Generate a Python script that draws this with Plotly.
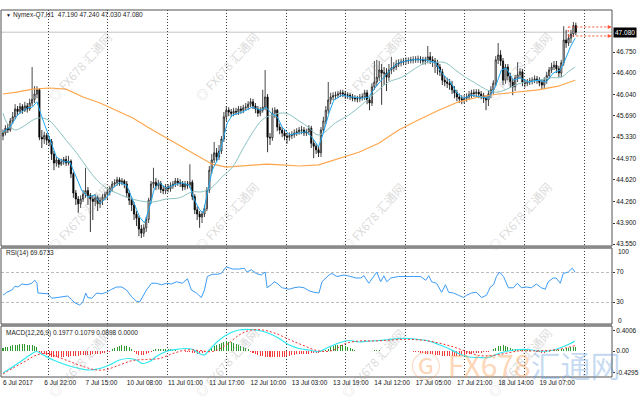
import plotly.graph_objects as go
from plotly.subplots import make_subplots

# ---------------- data ----------------
SYMBOL = "Nymex-Q7,H1"
LAST_OHLC = ["47.190", "47.240", "47.030", "47.080"]
FIRST_OPEN_C = 4535  # hundredths of a dollar

CLOSE_C = [
    4540, 4548, 4545, 4560, 4567, 4580, 4576, 4584, 4578, 4585,
    4580, 4590, 4596, 4605, 4612, 4533, 4530, 4536, 4528, 4526,
    4505, 4490, 4495, 4488, 4492, 4496, 4490, 4493, 4472, 4440,
    4430, 4422, 4430, 4438, 4444, 4436, 4430, 4426, 4432, 4422,
    4428, 4433, 4438,
    4442, 4448, 4455, 4457, 4462, 4458, 4460, 4455,
    4440, 4428, 4420, 4405, 4398, 4380, 4373, 4382, 4396, 4428,
    4455, 4458, 4452, 4456, 4446, 4444, 4450, 4447, 4452, 4455,
    4460, 4457, 4456, 4450, 4455, 4453, 4458, 4434, 4412, 4405,
    4400, 4405, 4414, 4445, 4478, 4495, 4507, 4500, 4510, 4530,
    4567, 4578, 4575, 4573, 4576, 4575, 4580, 4578, 4582, 4583,
    4588, 4592, 4585, 4580, 4573, 4578, 4583, 4600, 4533, 4532,
    4573, 4578, 4550, 4545, 4540, 4535, 4533, 4536, 4537, 4540,
    4542, 4545, 4545, 4540, 4542, 4548, 4523, 4518, 4512, 4507,
    4545, 4560, 4578, 4595, 4600, 4602, 4603, 4605, 4607, 4605,
    4603, 4603, 4600, 4598, 4597, 4597, 4600, 4600, 4607, 4595,
    4590, 4617, 4625, 4633, 4645, 4640, 4640, 4633, 4645, 4648,
    4650, 4655, 4657, 4658, 4660, 4660, 4661, 4662, 4662, 4663,
    4663, 4662, 4660, 4662, 4667, 4662, 4660, 4657, 4650, 4642,
    4628, 4625, 4623, 4620, 4612, 4607, 4600, 4597, 4595, 4598,
    4600, 4604, 4607, 4606, 4608, 4605, 4602, 4598, 4595, 4605,
    4612, 4623, 4662, 4670, 4660, 4628, 4650, 4635, 4625, 4617,
    4632, 4637, 4642, 4625, 4623, 4625, 4627, 4628, 4630, 4628,
    4624, 4620, 4628, 4636, 4645, 4650, 4653, 4647, 4640, 4657,
    4695, 4690, 4698, 4705, 4719, 4708,
]
HIGH_C = [
    4546, 4553, 4555, 4565, 4575, 4588, 4585, 4590, 4588, 4592,
    4590, 4597, 4650, 4618, 4618, 4615, 4545, 4542, 4540, 4535,
    4530, 4510, 4500, 4498, 4497, 4500, 4502, 4502, 4496, 4475,
    4445, 4435, 4436, 4445, 4482, 4450, 4440, 4436, 4438, 4436,
    4433, 4438, 4442,
    4447, 4452, 4460, 4463, 4467, 4466, 4465, 4463,
    4460, 4445, 4433, 4425, 4410, 4402, 4387, 4388, 4400, 4432,
    4460, 4482, 4465, 4462, 4460, 4452, 4455, 4455, 4458, 4460,
    4465, 4465, 4463, 4460, 4460, 4460, 4488, 4462, 4438, 4418,
    4410, 4410, 4420, 4450, 4485, 4505, 4525, 4515, 4520, 4535,
    4575, 4585, 4583, 4580, 4582, 4582, 4585, 4585, 4587, 4590,
    4593, 4598, 4597, 4590, 4585, 4583, 4612, 4645, 4605, 4540,
    4582, 4583, 4580, 4556, 4550, 4545, 4540, 4541, 4543, 4546,
    4548, 4550, 4552, 4550, 4547, 4553, 4552, 4528, 4522, 4517,
    4550, 4567, 4585, 4625, 4607, 4608, 4609, 4610, 4612, 4612,
    4610, 4608, 4607, 4605, 4603, 4602, 4605, 4606, 4612, 4612,
    4600, 4623, 4660, 4662, 4660, 4655, 4650, 4648, 4655, 4667,
    4658, 4662, 4663, 4664, 4665, 4666, 4666, 4667, 4668, 4668,
    4669, 4668, 4667, 4667, 4685, 4675, 4668, 4665, 4662, 4655,
    4647, 4635, 4632, 4630, 4627, 4618, 4612, 4606, 4603, 4603,
    4606, 4610, 4612, 4613, 4613, 4613, 4610, 4607, 4603, 4610,
    4618, 4628, 4668, 4690, 4678, 4665, 4655, 4655, 4640, 4630,
    4637, 4658, 4648, 4647, 4630, 4630, 4632, 4633, 4636, 4635,
    4633, 4630, 4633, 4642, 4650, 4657, 4660, 4660, 4652, 4662,
    4718, 4712, 4705, 4712, 4725, 4724,
]
LOW_C = [
    4528, 4536, 4540, 4542, 4555, 4563, 4570, 4572, 4572, 4575,
    4574, 4577, 4585, 4590, 4598, 4528, 4515, 4522, 4520, 4518,
    4495, 4478, 4484, 4482, 4485, 4487, 4485, 4486, 4465, 4432,
    4420, 4407, 4415, 4425, 4432, 4420, 4375, 4395, 4418, 4410,
    4415, 4420, 4428,
    4428, 4436, 4442, 4450, 4452, 4452, 4453, 4448,
    4433, 4420, 4410, 4395, 4385, 4368, 4365, 4367, 4375, 4390,
    4422, 4448, 4445, 4446, 4440, 4438, 4438, 4441, 4442, 4447,
    4450, 4452, 4450, 4444, 4445, 4447, 4448, 4428, 4405, 4395,
    4382, 4390, 4400, 4410, 4440, 4472, 4490, 4492, 4495, 4505,
    4525, 4560, 4568, 4567, 4568, 4570, 4570, 4572, 4573, 4577,
    4578, 4583, 4580, 4573, 4567, 4568, 4574, 4578, 4508, 4520,
    4527, 4565, 4543, 4538, 4533, 4528, 4522, 4527, 4530, 4532,
    4535, 4537, 4538, 4535, 4535, 4537, 4515, 4498, 4505, 4500,
    4500, 4540, 4555, 4572, 4588, 4595, 4596, 4598, 4600, 4600,
    4597, 4597, 4595, 4593, 4592, 4591, 4592, 4594, 4595, 4588,
    4578, 4585, 4612, 4618, 4627, 4587, 4620, 4610, 4627, 4638,
    4642, 4645, 4650, 4651, 4653, 4654, 4655, 4656, 4656, 4657,
    4657, 4656, 4654, 4654, 4656, 4655, 4650, 4640, 4637, 4635,
    4620, 4618, 4615, 4612, 4605, 4598, 4593, 4590, 4588, 4589,
    4592, 4595, 4598, 4600, 4600, 4598, 4596, 4590, 4578, 4585,
    4598, 4605, 4618, 4655, 4652, 4620, 4622, 4628, 4615, 4603,
    4610, 4625, 4630, 4618, 4616, 4618, 4620, 4621, 4623, 4622,
    4618, 4613, 4613, 4622, 4630, 4640, 4645, 4640, 4633, 4633,
    4652, 4682, 4685, 4690, 4700, 4703,
]

# moving averages (bar index, price)
MA_FAST_X = [0, 3, 6, 10, 12, 14, 16, 18, 20, 22, 25, 27.5, 29.5, 32.4, 35, 37.8, 40, 42.7, 45.2, 48,
             51, 53.5, 56.3, 58.3, 60.4, 62.4, 64.5, 67.3, 70, 73.5, 76.8, 78.9, 81, 82.5, 84.2, 86.2,
             88.3, 90.3, 92.4, 94.5, 98.6, 102.7, 106.4, 108.4, 110.5, 113, 115, 118, 122, 125, 127.3,
             130, 132, 134.3, 136.3, 139.6, 143.7, 147.8, 150.7, 153.6, 156.9, 160.2, 163, 168.4, 174.1,
             178.2, 180.7, 184.4, 186.9, 189.7, 193, 197.1, 200, 202.9, 205.3, 207.4, 210.3, 213.1,
             216.4, 220.5, 223.8, 226.7, 229.6, 231.6, 233.7, 235.7]
MA_FAST_Y = [45.42, 45.50, 45.70, 45.82, 45.83, 45.92, 45.67, 45.45, 45.25, 45.00, 44.92, 44.92, 44.73,
             44.45, 44.33, 44.37, 44.23, 44.32, 44.48, 44.57, 44.53, 44.28, 44.00, 43.90, 44.17, 44.48,
             44.57, 44.48, 44.53, 44.57, 44.53, 44.28, 44.12, 44.07, 44.40, 44.78, 44.95, 45.23, 45.57,
             45.70, 45.75, 45.83, 45.78, 45.83, 45.73, 45.67, 45.50, 45.37, 45.40, 45.42, 45.33, 45.17,
             45.40, 45.73, 45.95, 46.03, 46.00, 45.98, 46.00, 46.17, 46.33, 46.48, 46.57, 46.62, 46.62,
             46.57, 46.40, 46.25, 46.07, 45.98, 46.03, 46.00, 45.98, 46.17, 46.45, 46.48, 46.28, 46.32,
             46.25, 46.28, 46.25, 46.40, 46.45, 46.62, 46.83, 46.98]
MA_MID_X = [0, 1.6, 5, 8, 12.5, 15, 18.6, 22.7, 26, 30.3, 34.5, 38.6, 42.7, 46.8, 50.9, 56.3, 61.6, 67.3,
            72.7, 78, 82, 86.2, 90.3, 94.5, 98.6, 102.7, 106.8, 110.9, 116.6, 122, 126, 129.4, 132, 137,
            142.5, 147.8, 153.6, 158.9, 164.3, 170, 174.1, 178.2, 182.3, 186.4, 190.5, 194.7, 198.8,
            202.9, 207, 211.1, 215.2, 220.5, 225.9, 230, 232.9, 235.7]
MA_MID_Y = [45.73, 45.57, 45.45, 45.50, 45.62, 45.65, 45.62, 45.45, 45.28, 45.07, 44.83, 44.62, 44.48,
            44.40, 44.33, 44.27, 44.25, 44.30, 44.32, 44.42, 44.42, 44.50, 44.67, 44.83, 45.12, 45.40,
            45.62, 45.70, 45.73, 45.60, 45.49, 45.37, 45.40, 45.57, 45.70, 45.87, 46.08, 46.25, 46.33,
            46.48, 46.57, 46.58, 46.57, 46.45, 46.33, 46.23, 46.13, 46.08, 46.12, 46.20, 46.25, 46.28,
            46.32, 46.33, 46.42, 46.50]
MA_SLOW_X = [0, 5.7, 12.3, 19.3, 26, 33, 40, 46.8, 53.5, 60.4, 67.3, 74, 81, 86.2, 92, 97.3, 102.7,
             108.4, 115, 122, 130, 138.4, 146.6, 154.8, 163, 171.3, 179.5, 187.7, 195.9, 204.1, 212.3,
             220.5, 228.7, 235.7]
MA_SLOW_Y = [46.05, 46.08, 46.13, 46.15, 46.13, 46.00, 45.90, 45.78, 45.65, 45.48, 45.32, 45.17, 45.00,
             44.88, 44.83, 44.85, 44.87, 44.88, 44.87, 44.85, 44.87, 44.98, 45.08, 45.23, 45.45, 45.62,
             45.78, 45.92, 46.00, 46.05, 46.08, 46.12, 46.18, 46.28]

# RSI(14)
RSI_X = [0, 1.6, 3.7, 4.9, 6.2, 7.8, 9.9, 11.9, 13.1, 14, 14.4, 16.4, 18.5, 20.1, 22.2, 24.6, 26.7, 28.3,
         29.6, 31.6, 32.9, 34.1, 34.9, 36.6, 38.6, 40.7, 42.7, 44.8, 46.8, 48.9, 50.9, 53, 55, 56.3, 57.5,
         59.1, 61.2, 63.2, 65.3, 67.4, 69.4, 71.5, 73.9, 76, 77.6, 79.7, 81.7, 83, 84.2, 86.2, 88.3, 89.9,
         92, 94.5, 97.3, 99.4, 100.6, 102.3, 104.3, 106.4, 108, 108.8, 110.5, 111.7, 112.9, 115, 117.9,
         119.9, 122, 124, 126.1, 128.1, 130.2, 131.4, 134.3, 135.5, 137.6, 140.5, 143.3, 145.4, 147.4,
         148.7, 150.7, 152.8, 154, 155.6, 156.9, 158.1, 159.8, 163, 165.9, 168.4, 172.1, 174.1, 175.4,
         176.6, 178.6, 180.7, 182.3, 183.6, 185.6, 187.7, 189.7, 191, 193, 195.1, 197.1, 199.2, 200.8,
         202.1, 203.3, 204.5, 206.2, 208.2, 210.3, 211.9, 213.6, 215.6, 217.7, 219.7, 221.8, 223.4,
         224.6, 226.7, 227.9, 229.6, 230.8, 232.9, 234.5, 235.7]
RSI_Y = [39, 43, 46, 51, 50, 54, 53, 55, 59, 55, 42, 42, 41, 35, 36, 37, 38, 33, 29, 26, 30, 42, 36, 35,
         42, 41, 43, 47, 50, 50, 46, 37, 31, 30, 37, 46, 55, 55, 53, 55, 54, 57, 55, 61, 46, 42, 36, 46,
         64, 67, 67, 68, 77, 74, 74, 75, 70, 73, 68, 66, 70, 49, 53, 57, 55, 49, 47, 49, 50, 49, 45, 43,
         42, 57, 66, 68, 64, 66, 64, 62, 62, 65, 55, 65, 70, 57, 65, 57, 62, 64, 64, 64, 64, 59, 65, 57,
         55, 43, 53, 43, 42, 39, 36, 39, 42, 43, 36, 39, 50, 53, 64, 70, 64, 49, 49, 55, 49, 50, 49, 54,
         49, 47, 57, 62, 62, 55, 68, 70, 75, 69.67]
RSI_LEVELS = [70, 30]

# MACD(12,26,9)
MACD_X = [0, 2.9, 7.0, 11.1, 13.8, 16.6, 20.7, 26.1, 31.6, 35.7, 39.8, 43.9, 48.0, 52.2, 54.9, 57.6,
          60.4, 63.1, 67.2, 71.3, 75.4, 78.2, 80.9, 83.0, 85.0, 89.1, 93.2, 97.3, 101.4, 105.5, 109.7,
          113.8, 117.9, 122.0, 126.1, 130.2, 134.3, 138.4, 142.5, 146.6, 150.7, 154.8, 158.9, 163.1,
          167.2, 171.3, 175.4, 179.5, 183.6, 187.7, 191.8, 195.9, 200.0, 204.1, 208.2, 212.3, 216.4,
          220.5, 224.7, 228.8, 232.9, 235.6]
MACD_Y = [-0.44, -0.35, -0.22, -0.08, -0.01, -0.08, -0.18, -0.28, -0.35, -0.38, -0.35, -0.28, -0.18,
          -0.15, -0.18, -0.25, -0.21, -0.11, -0.01, 0.03, 0.05, 0.03, -0.05, -0.08, 0.02, 0.22, 0.35,
          0.42, 0.43, 0.41, 0.35, 0.25, 0.12, 0.05, 0.02, -0.01, 0.08, 0.16, 0.21, 0.18, 0.20, 0.21,
          0.23, 0.25, 0.25, 0.23, 0.20, 0.13, 0.05, -0.05, -0.12, -0.13, -0.13, -0.05, 0.0, 0.03, 0.03,
          0.0, 0.0, 0.05, 0.13, 0.1977]
SIGNAL_X = [0, 4.2, 9.7, 13.8, 17.9, 22.0, 27.5, 33.0, 38.5, 42.6, 48.0, 53.5, 59.0, 64.5, 70.0, 75.4,
            80.9, 86.4, 91.9, 97.3, 101.4, 106.9, 112.4, 117.9, 123.3, 130.2, 135.7, 141.1, 146.6, 152.1,
            157.6, 163.1, 168.5, 174.0, 179.5, 185.0, 190.4, 195.9, 201.4, 206.9, 212.3, 217.8, 223.3,
            228.8, 235.6]
SIGNAL_Y = [-0.46, -0.34, -0.19, -0.08, -0.05, -0.11, -0.21, -0.31, -0.38, -0.37, -0.28, -0.19, -0.17,
            -0.15, -0.05, 0.02, 0.01, -0.01, 0.12, 0.32, 0.41, 0.42, 0.35, 0.23, 0.12, 0.0, 0.01, 0.15,
            0.20, 0.20, 0.21, 0.23, 0.23, 0.21, 0.16, 0.09, 0.0, -0.09, -0.09, -0.05, 0.0, 0.0, 0.01,
            0.03, 0.1079]
HIST_C = [  # hundredths, one per bar
    7, 8, 9, 10, 12, 12, 13, 14, 14, 14, 13, 13, 12, 10, 8,
    -2, -4, -6, -8,
    -10, -11, -12, -12, -11, -12, -11, -10, -11, -10, -10, -9, -9, -8, -8, -7, -8, -7, -6, -6,
    -5, -5, -4, -3, -2, -1,
    4, 7, 9, 11, 12, 11, 10, 8, 5,
    -2, -5, -7, -8, -8, -6, -3, -1,
    2, 4, 5, 5, 5, 5, 4, 4, 3, 2,
    1, 1, 0, -1, -1, -2, -3, -4, -5, -5, -4, -2, 1,
    4, 7, 10, 13, 15, 17, 19, 20, 19, 18, 16, 14, 12, 10, 8, 6, 4,
    -1, -3, -5, -7, -9, -10, -11, -11, -12, -11, -11, -12, -12, -12, -11, -10, -9, -8, -7, -6,
    -6, -5, -5, -5, -5, -4, -4, -3, -3, -2, -1,
    2, 5, 8, 10, 12, 13, 13, 12, 11, 9, 7, 4,
    2, 1, 1, 1, 1, 1, 1, 1, 2, 2, 2, 1, 1, 1, 1, 1, 1, 1, 1, 0, 0, 0, 0, 0, -1,
    -1, -2, -3, -4, -5, -5, -6, -6, -7, -7, -8, -9, -9, -10, -10, -10, -10, -9, -9,
    -8, -7, -6, -5, -5, -4, -4, -3, -3, -2, -2, -1, 1,
    4, 7, 10, 11, 12, 11, 9, 7, 5,
    4, 3, 3, 3, 2, 2, 2, 1, 0,
    -1, -2, -3, -3, -2, -1,
    1, 2, 3, 3, 4, 5, 6, 7, 8, 9, 9,
]
MACD_TITLE_VALUES = ["0.1977", "0.1079", "0.0898", "0.0000"]
RSI_TITLE_VALUE = "69.6733"

# axes / labels
PRICE_TICKS = [46.75, 46.40, 46.04, 45.69, 45.33, 44.97, 44.62, 44.26, 43.90, 43.55]
MACD_TICKS = [0.4006, 0.0, -0.4295]
MACD_TICK_TEXT = ["0.4006", "0.00", "-0.4295"]
TIME_LABELS = ["6 Jul 2017", "6 Jul 22:00", "7 Jul 15:00", "10 Jul 08:00", "11 Jul 01:00",
               "11 Jul 17:00", "12 Jul 10:00", "13 Jul 03:00", "13 Jul 19:00", "14 Jul 12:00",
               "17 Jul 05:00", "17 Jul 21:00", "18 Jul 14:00", "19 Jul 07:00"]
TIME_LABEL_BARS = [0, 17, 34, 51, 68, 85, 102, 119, 136, 153, 170, 187, 204, 221]
GRID_BARS = [18.9, 43.1, 67.8, 92.0, 116.6, 141.3, 165.9, 190.1, 214.8, 239.4]
CURRENT_PRICE = 47.08
LEVEL_MARKS = [47.167, 47.017]
LEVEL_MARK_START = 232.9
WATERMARK = "FX678 汇通网"

# ---------------- figure ----------------
W, H = 640, 400
ML, MR, MT, MB = 1, 26, 10, 23
PH = H - MT - MB  # plot height in px


def py(ypx):  # pixel row -> paper y
    return (H - MB - ypx) / PH


def px(xpx):  # pixel column -> paper x
    return (xpx - ML) / (W - ML - MR)


n = len(CLOSE_C)
bars = list(range(n))
closes = [c / 100 for c in CLOSE_C]
opens = [FIRST_OPEN_C / 100] + closes[:-1]
highs = [v / 100 for v in HIGH_C]
lows = [v / 100 for v in LOW_C]

fig = make_subplots(rows=3, cols=1, shared_xaxes=True, vertical_spacing=0)

fig.add_trace(go.Candlestick(
    x=bars, open=opens, high=highs, low=lows, close=closes,
    increasing=dict(line=dict(color="#1a1a1a", width=0.8), fillcolor="#ffffff"),
    decreasing=dict(line=dict(color="#000000", width=0.8), fillcolor="#000000"),
    whiskerwidth=0, hoverinfo="skip", showlegend=False), row=1, col=1)
fig.add_trace(go.Scatter(x=MA_SLOW_X, y=MA_SLOW_Y, mode="lines",
                         line=dict(color="#ffa64d", width=1.2), hoverinfo="skip"), row=1, col=1)
fig.add_trace(go.Scatter(x=MA_MID_X, y=MA_MID_Y, mode="lines", line_shape="spline",
                         line=dict(color="#8cc3c3", width=1), hoverinfo="skip"), row=1, col=1)
fig.add_trace(go.Scatter(x=MA_FAST_X, y=MA_FAST_Y, mode="lines",
                         line=dict(color="#1ea7f0", width=1), hoverinfo="skip"), row=1, col=1)

fig.add_trace(go.Scatter(x=RSI_X, y=RSI_Y, mode="lines",
                         line=dict(color="#3d9cf5", width=1), hoverinfo="skip"), row=2, col=1)

hist_vals = [v / 100 for v in HIST_C]
hist_cols = ["#2f9a2f" if v > 0 else "#f03c3c" for v in hist_vals]
fig.add_trace(go.Bar(x=list(range(len(hist_vals))), y=hist_vals, marker_color=hist_cols,
                     marker_line_width=0, width=0.42, hoverinfo="skip"), row=3, col=1)
fig.add_trace(go.Scatter(x=MACD_X, y=MACD_Y, mode="lines", line_shape="spline",
                         line=dict(color="#30e8f0", width=1.2), hoverinfo="skip"), row=3, col=1)
fig.add_trace(go.Scatter(x=SIGNAL_X, y=SIGNAL_Y, mode="lines", line_shape="spline",
                         line=dict(color="#f03030", width=1, dash="2px,2px"), hoverinfo="skip"),
              row=3, col=1)

FONT = "Liberation Sans, Arial, sans-serif"
fig.update_layout(
    width=W, height=H, margin=dict(l=ML, r=MR, t=MT, b=MB),
    paper_bgcolor="white", plot_bgcolor="white", showlegend=False,
    font=dict(family=FONT, size=6.5, color="#111111"),
    bargap=0,
)

x_range = [-0.82, 250.9]
grid_minor = dict(tickvals=GRID_BARS, showgrid=True, gridcolor="#3a3a3a", gridwidth=1,
                  griddash="1px,2px", ticks="")
for ax in ["xaxis", "xaxis2", "xaxis3"]:
    fig.layout[ax].update(range=x_range, showgrid=False, zeroline=False, showline=False,
                          minor=grid_minor, rangeslider=dict(visible=False), fixedrange=True)
fig.layout.xaxis.showticklabels = False
fig.layout.xaxis2.showticklabels = False
fig.layout.xaxis3.update(tickmode="array", tickvals=TIME_LABEL_BARS, ticktext=TIME_LABELS,
                         ticks="", showticklabels=True, ticklabelposition="outside right",
                         tickangle=0, tickfont=dict(size=6.5, color="#111111"))

ycommon = dict(side="right", showgrid=False, zeroline=False, showline=False, ticks="outside",
               ticklen=2, tickcolor="#333333", tickfont=dict(size=6.5, color="#111111"),
               fixedrange=True)
fig.layout.yaxis.update(domain=[py(246), 1.0], range=[43.517, 47.45], tickmode="array",
                        tickvals=PRICE_TICKS, ticktext=[f"{v:.3f}" for v in PRICE_TICKS], **ycommon)
fig.layout.yaxis2.update(domain=[py(324), py(248)], range=[0.67, 102], tickmode="array",
                         tickvals=RSI_LEVELS, ticktext=[str(v) for v in RSI_LEVELS], **ycommon)
fig.layout.yaxis2.update(showgrid=True, gridcolor="#bdbdbd", gridwidth=1, griddash="3px,2px")
fig.layout.yaxis3.update(domain=[0.0, py(326)], range=[-0.52, 0.50], tickmode="array",
                         tickvals=MACD_TICKS, ticktext=MACD_TICK_TEXT, **ycommon)

shapes = []
# current price line
shapes.append(dict(type="line", xref="x domain", yref="y", x0=0, x1=1, y0=CURRENT_PRICE,
                   y1=CURRENT_PRICE, line=dict(color="#c4c4c4", width=1), layer="below"))
# red level marks
for lv in LEVEL_MARKS:
    shapes.append(dict(type="line", xref="x", yref="y", x0=LEVEL_MARK_START, x1=250.0, y0=lv, y1=lv,
                       line=dict(color="#ff5533", width=1, dash="2px,2px")))
shapes.append(dict(type="line", xref="x", yref="y", x0=LEVEL_MARK_START, x1=LEVEL_MARK_START,
                   y0=LEVEL_MARKS[1], y1=LEVEL_MARKS[0], line=dict(color="#ff5533", width=1, dash="2px,2px")))
# panel borders
for xa, ya in [("x", "y"), ("x2", "y2"), ("x3", "y3")]:
    shapes.append(dict(type="rect", xref=f"{xa} domain", yref=f"{ya} domain", x0=0, x1=1, y0=0, y1=1,
                       line=dict(color="#505050", width=1), fillcolor="rgba(0,0,0,0)"))
# separators between panels
for top, bot in [(246, 248.5), (324, 326.5)]:
    shapes.append(dict(type="rect", xref="paper", yref="paper", x0=0, x1=1, y0=py(bot), y1=py(top),
                       line=dict(width=0), fillcolor="#8a8a8a"))
fig.update_layout(shapes=shapes)

ann = []
# header
ann.append(dict(xref="paper", yref="paper", x=px(4), y=py(15), xanchor="left", yanchor="middle",
                text="▼", showarrow=False, font=dict(size=5, color="#111111")))
ann.append(dict(xref="paper", yref="paper", x=px(11), y=py(15), xanchor="left", yanchor="middle",
                text=SYMBOL + "  " + " ".join(LAST_OHLC), showarrow=False,
                font=dict(size=6.5, color="#222222")))
ann.append(dict(xref="paper", yref="paper", x=px(4), y=py(253), xanchor="left", yanchor="middle",
                text="RSI(14) " + RSI_TITLE_VALUE, showarrow=False, font=dict(size=6.5, color="#222222")))
ann.append(dict(xref="paper", yref="paper", x=px(4), y=py(333), xanchor="left", yanchor="middle",
                text="MACD(12,26,9) " + " ".join(MACD_TITLE_VALUES), showarrow=False,
                font=dict(size=6.5, color="#222222")))
# RSI 100 / 0 labels (drawn inside the panel bounds like the terminal does)
for txt, ypx in [("100", 251), ("0", 320)]:
    ann.append(dict(xref="paper", yref="paper", x=1, y=py(ypx), xanchor="left", yanchor="middle",
                    xshift=4, text=txt, showarrow=False, font=dict(size=6.5, color="#111111")))
# current price box
ann.append(dict(xref="paper", yref="y", x=1, y=CURRENT_PRICE, xanchor="left", yanchor="middle",
                xshift=1, text=f"{CURRENT_PRICE:.3f}", showarrow=False, bgcolor="#000000",
                borderpad=1, font=dict(size=6.5, color="#ffffff")))
# arrow heads of level marks
for lv in LEVEL_MARKS:
    ann.append(dict(xref="x", yref="y", axref="x", ayref="y", x=250.8, y=lv, ax=248.5, ay=lv,
                    showarrow=True, arrowhead=2, arrowsize=0.8, arrowwidth=1, arrowcolor="#ff5533",
                    text=""))
# watermarks
for cx in [80, 227, 374, 521]:
    for cy in [66, 216, 362]:
        ann.append(dict(xref="paper", yref="paper", x=px(cx), y=py(cy), xanchor="center",
                        yanchor="middle", text="◎ " + WATERMARK, textangle=-48, showarrow=False,
                        font=dict(family="Noto Sans CJK SC, sans-serif", size=12,
                                  color="rgba(150,150,150,0.36)")))
ann.append(dict(xref="paper", yref="paper", x=px(518), y=py(364), xanchor="center", yanchor="middle",
                showarrow=False,
                text="<span style='color:rgba(250,150,70,0.40)'>Ⓖ FX678</span>"
                     "<span style='color:rgba(90,150,215,0.35)'>汇通网</span>",
                font=dict(family="Noto Sans CJK SC, sans-serif", size=30)))
fig.update_layout(annotations=ann)

fig.write_html("out.html", config={"displayModeBar": False, "staticPlot": True},
               post_script="document.body.style.margin='0';document.body.style.overflow='hidden';")
